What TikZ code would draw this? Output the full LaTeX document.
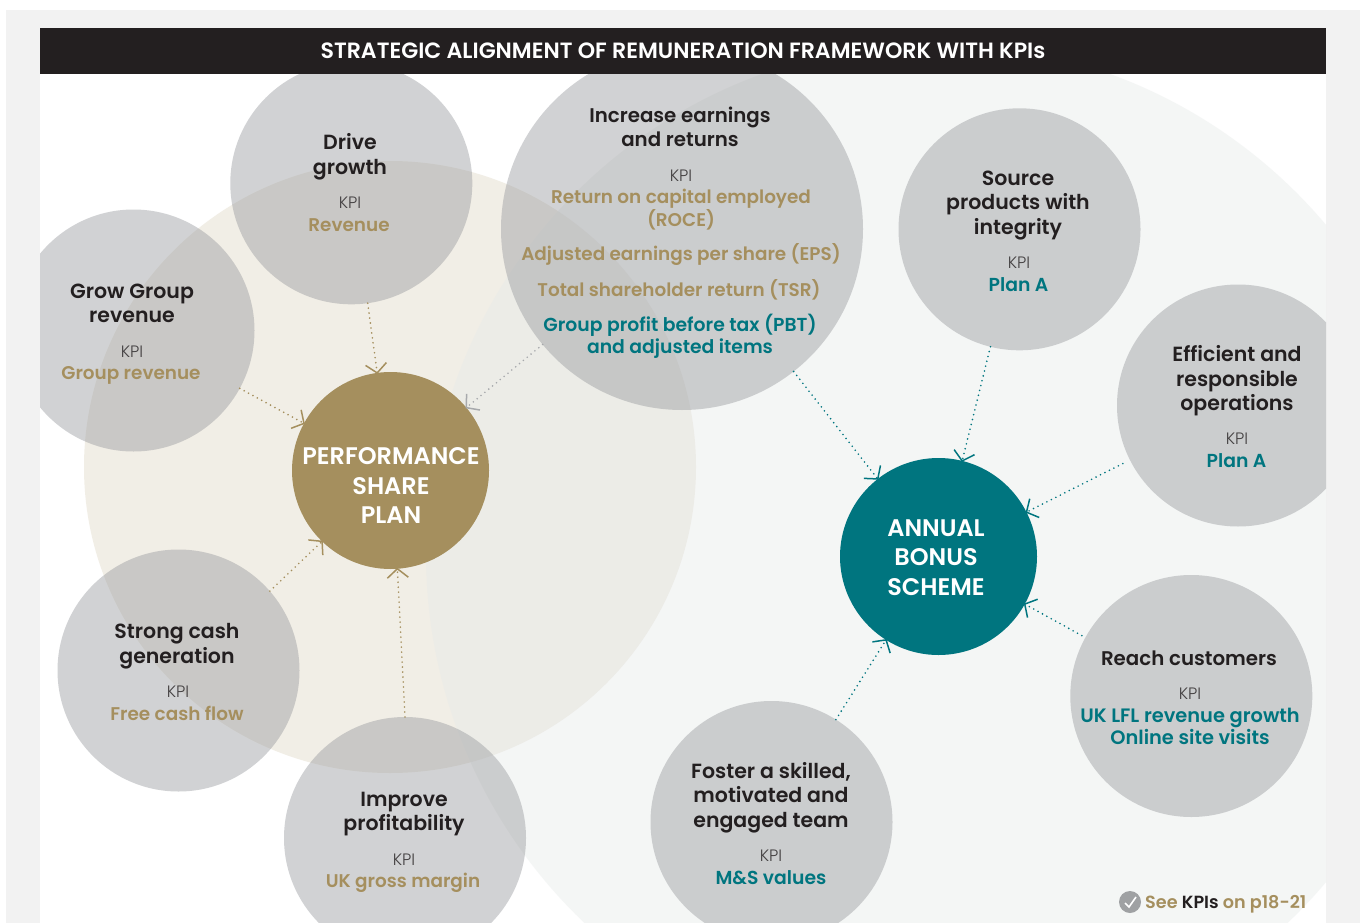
\documentclass[tikz,border=0pt]{standalone}
\usepackage{fontspec}
\setmainfont{Poppins}[UprightFont={* Medium},BoldFont={* SemiBold}]
\newfontfamily\lightf{Poppins}[UprightFont={* Light}]
\usetikzlibrary{arrows.meta}
\definecolor{pagegrey}{HTML}{F2F2F2}
\definecolor{ink}{HTML}{231F20}
\definecolor{gold}{HTML}{A58F5E}
\definecolor{teal}{HTML}{00757F}
\definecolor{pale}{HTML}{E6EAE9}
\definecolor{sand}{HTML}{D8CFB8}
\definecolor{kgrey}{HTML}{96989C}
\definecolor{agrey}{HTML}{A7A9AC}
\tikzset{
 kpi/.style={circle,minimum size=242pt,inner sep=0pt,outer sep=0pt,fill=kgrey,fill opacity=.43},
 big/.style={circle,minimum size=362pt,inner sep=0pt,outer sep=0pt,fill=kgrey,fill opacity=.43},
 hub/.style={circle,minimum size=197pt,inner sep=0pt,outer sep=0pt,text=white,align=center,font=\bfseries\fontsize{24}{29.5}\selectfont},
 title/.style={inner sep=0pt,align=center,text=ink,font=\bfseries\fontsize{20.5}{24.5}\selectfont},
 narrowtitle/.style={title,font=\bfseries\fontsize{19.8}{24.2}\selectfont},
 klabel/.style={inner sep=0pt,text=ink!85,font=\lightf\fontsize{16.5}{18}\selectfont},
 gtext/.style={inner sep=0pt,align=center,text=gold,font=\bfseries\fontsize{18.4}{23}\selectfont},
 ttext/.style={inner sep=0pt,align=center,text=teal,font=\bfseries\fontsize{18.8}{22.5}\selectfont},
 widetext/.style={ttext,font=\bfseries\fontsize{19.4}{22}\selectfont},
 link/.style={dash pattern=on 0pt off 5pt,line cap=round,line width=1.8pt,-{Straight Barb[length=9pt,width=21pt,line width=1.5pt,line cap=butt]},shorten >=-1pt},
}
\begin{document}
\begin{tikzpicture}[x=1pt,y=-1pt]
\useasboundingbox (0,0) rectangle (1362,923);
\fill[white] (0,0) rectangle (1362,923);
\fill[pagegrey] (6,10) rectangle (1360,923);
\fill[white] (40,74) rectangle (1326,923);
\begin{scope}
\clip (40,74) rectangle (1326,923);
\fill[sand,fill opacity=.35] (390,467) circle[radius=306];
\fill[pale,fill opacity=.42] (936,553.5) circle[radius=510];
\node[kpi] (drive) at (351.3,183.3) {};
\node[kpi] (grow) at (133.5,330.5) {};
\node[big] (incr) at (682,229) {};
\node[kpi] (source) at (1019.5,229.3) {};
\node[kpi] (effic) at (1238,405.5) {};
\node[kpi] (reach) at (1191.3,696) {};
\node[kpi] (foster) at (771.5,822) {};
\node[kpi] (improve) at (405,838) {};
\node[kpi] (strong) at (178.5,670.5) {};
\end{scope}
\node[hub,fill=gold] (psp) at (390.5,470.5) {};
\node[hub,fill=teal] (abs) at (938.5,556.5) {};
\node[hub] (psptext) at (391,485.5) {PERFORMANCE\\SHARE\\PLAN};
\node[hub] (abstext) at (936,557.5) {ANNUAL\\BONUS\\SCHEME};
\fill[ink] (40,28) rectangle (1326,74);
\node[inner sep=0pt,text=white,font=\bfseries\fontsize{22.1}{24}\selectfont] (head) at (683,51) {STRATEGIC ALIGNMENT OF REMUNERATION FRAMEWORK WITH KPIs};
\draw[link,gold] (drive) -- (psp);
\draw[link,gold] (grow) -- (psp);
\draw[link,agrey] (incr) -- (psp);
\draw[link,gold] (strong.41) -- (psp.226);
\draw[link,gold] (improve.north) -- (psp.-86.5);
\draw[link,teal] (incr) -- (abs);
\draw[link,teal] (source) -- (abs);
\draw[link,teal,shorten <=8pt] (effic) -- (abs);
\draw[link,teal,shorten <=4pt] (reach) -- (abs);
\draw[link,teal] (foster) -- (abs);
% texts
\node[title] (t1) at (350,157) {Drive\\growth};
\node[klabel] (k1) at (350,202.5) {KPI};
\node[gtext] (v1) at (349,225.5) {Revenue};
\node[title] (t2) at (132,303.5) {Grow Group\\revenue};
\node[klabel] (k2) at (132,351.5) {KPI};
\node[gtext] (v2) at (131,375) {Group revenue};
\node[narrowtitle] (t3) at (680,126.5) {Increase earnings\\and returns};
\node[klabel] (k3) at (681,175.5) {KPI};
\node[gtext] (v3) at (681,209.5) {Return on capital employed\\(ROCE)};
\node[gtext] (v3b) at (681,255) {Adjusted earnings per share (EPS)};
\node[gtext] (v3c) at (679,289.5) {Total shareholder return (TSR)};
\node[ttext] (v3d) at (680,336.5) {Group profit before tax (PBT)\\and adjusted items};
\node[title] (t4) at (1018,205.5) {Source\\products with\\integrity};
\node[klabel] (k4) at (1019,262.5) {KPI};
\node[ttext] (v4) at (1018.5,284.5) {Plan A};
\node[title] (t5) at (1237,381) {Efficient and\\responsible\\operations};
\node[klabel] (k5) at (1237,438.5) {KPI};
\node[ttext] (v5) at (1236.5,460.5) {Plan A};
\node[narrowtitle] (t6) at (1189,658.5) {Reach customers};
\node[klabel] (k6) at (1190,693.5) {KPI};
\node[widetext] (v6) at (1190,726.5) {UK LFL revenue growth\\Online site visits};
\node[title] (t7) at (771,797.5) {Foster a skilled,\\motivated and\\engaged team};
\node[klabel] (k7) at (771,855.5) {KPI};
\node[ttext] (v7) at (771,877.5) {M\&S values};
\node[title] (t8) at (404,814) {Improve\\profitability};
\node[klabel] (k8) at (404,859.5) {KPI};
\node[gtext] (v8) at (403,883) {UK gross margin};
\node[title] (t9) at (177,646) {Strong cash\\generation};
\node[klabel] (k9) at (178,691.5) {KPI};
\node[gtext] (v9) at (177,713.5) {Free cash flow};
% see KPIs
\node[circle,fill=agrey!95!black,minimum size=22pt,inner sep=0pt] (chk) at (1130,902) {};
\draw[white,line width=1.6pt] (1125,903) -- (1129,907) -- (1136,897);
\node[anchor=west,inner sep=0pt,text=gold,font=\bfseries\fontsize{17.6}{20}\selectfont] (see) at (1145,904) {See \textcolor{ink}{KPIs} on p18-21};
\end{tikzpicture}
\end{document}
